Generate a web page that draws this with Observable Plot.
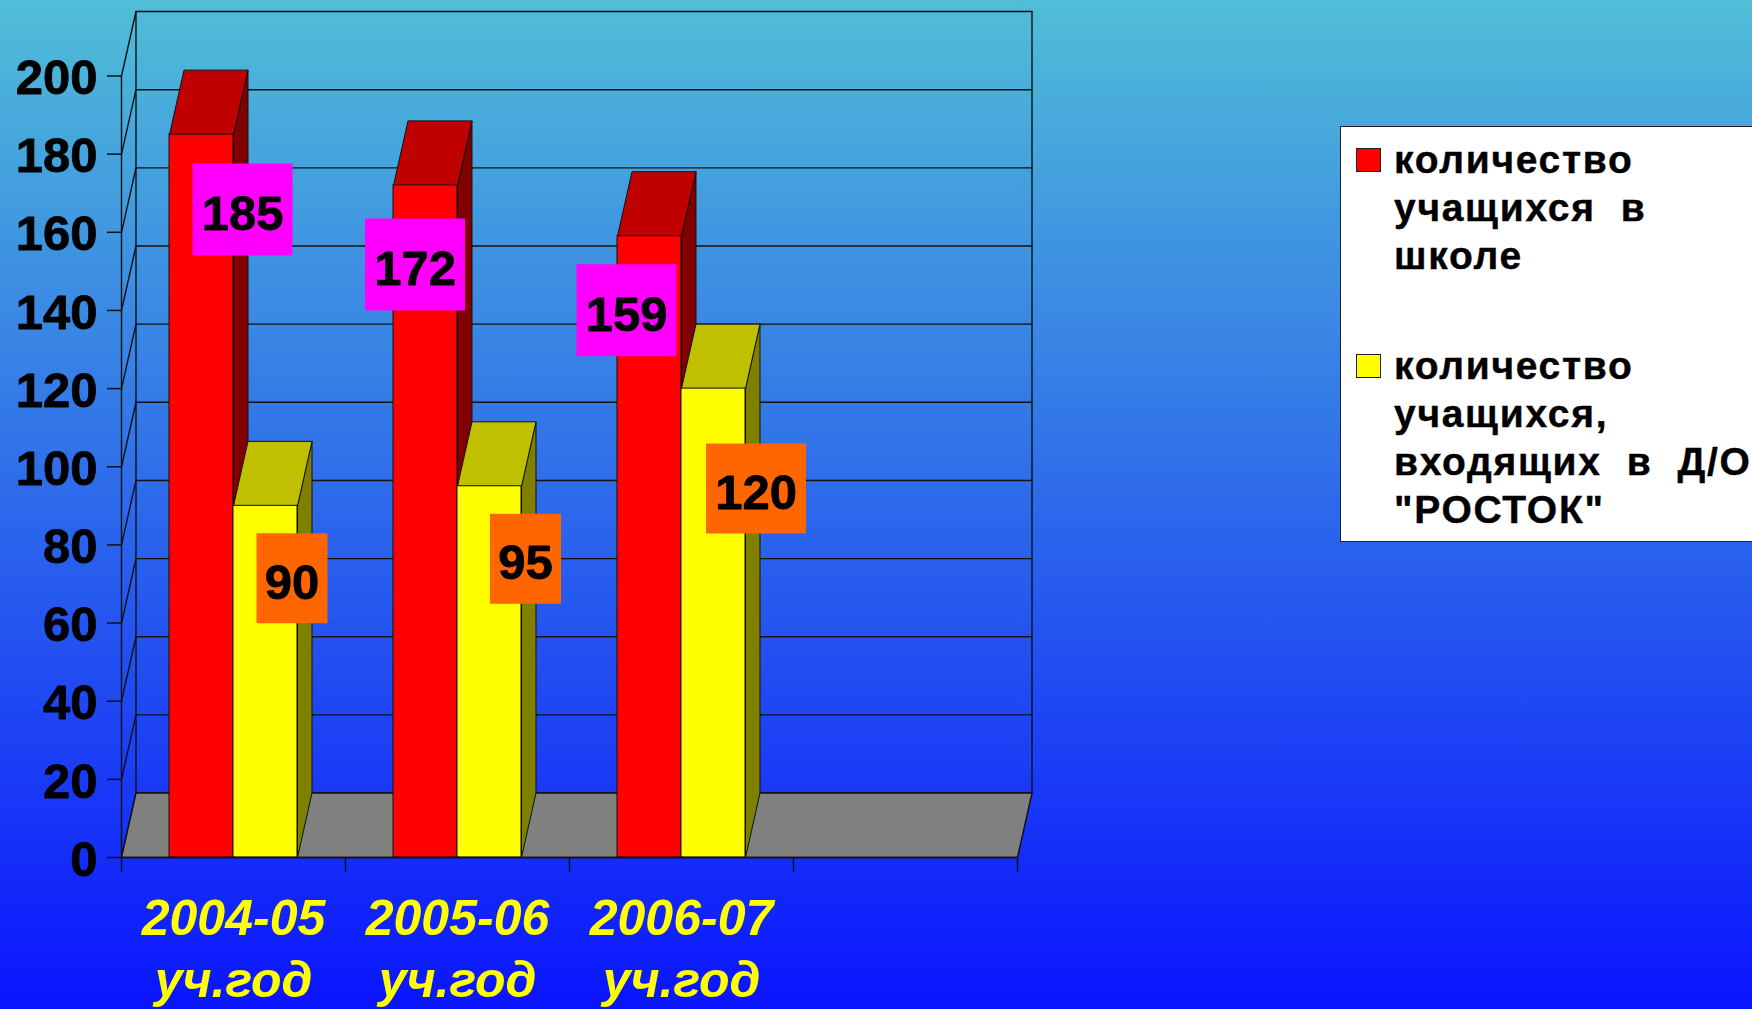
<!DOCTYPE html>
<html lang="ru">
<head>
<meta charset="utf-8">
<script src="https://cdn.jsdelivr.net/npm/d3@7"></script>
<script src="https://cdn.jsdelivr.net/npm/@observablehq/plot@0.6"></script>
<style>
  html, body { margin: 0; padding: 0; width: 1752px; height: 1009px; overflow: hidden; }
  body { position: relative; background: linear-gradient(to bottom, #50bed7 0, #0a14ff 1009px); font-family: "Liberation Sans", Arial, sans-serif; }
  svg { display: block; }
  #legend { position: absolute; left: 1340px; top: 126px; width: 412px; height: 416px; box-sizing: border-box;
    background: #fff; border: 1.5px solid #222; border-right: none; }
  .entry { position: absolute; left: 53px; font-size: 39px; font-weight: bold; line-height: 48px; color: #000; white-space: pre; letter-spacing: 1.7px; -webkit-text-stroke: 0.4px #000; }
  .swatch { position: absolute; left: -38px; top: 12px; width: 25px; height: 24px; box-sizing: border-box; border: 1px solid #222; }
</style>
</head>
<body>
<div id="legend"></div>
<script>
const categories = ["2004-05\nуч.год", "2005-06\nуч.год", "2006-07\nуч.год"];
const schoolValues = [185, 172, 159];
const rostokValues = [90, 95, 120];
const yTicks = [0, 20, 40, 60, 80, 100, 120, 140, 160, 180, 200];
const xTicks = [0, 1, 2, 3, 4];
const legendLabels = ["количество\nучащихся  в\nшколе", "количество\nучащихся,\nвходящих  в  Д/О\n\"РОСТОК\""];

const colors = {
  red: { front: "#ff0000", top: "#c00000", side: "#800000", label: "#ff00ff" },
  yellow: { front: "#ffff00", top: "#c0c000", side: "#808000", label: "#ff6600" }
};
const line = "#111111";
const FONT = 49;

// Chart geometry (in scale units): bar width, gap, and 3-D depth.
const barW = 2 / 7, gapW = 1.5 / 7;
const depthX = 0.0647, depthY = 16.5;
const xMax = xTicks[xTicks.length - 1];

const barsOf = (values, offset) => values.map((v, i) => ({ x1: i + gapW + offset * barW, x2: i + gapW + (offset + 1) * barW, v }));
const redBars = barsOf(schoolValues, 0);
const yellowBars = barsOf(rostokValues, 1);

function poly(id, pts) { return pts.concat([pts[0]]).map(([x, y]) => ({ id, x, y })); }
const topFaces = bars => bars.flatMap((b, i) => poly("t" + i, [[b.x1, b.v], [b.x2, b.v], [b.x2 + depthX, b.v + depthY], [b.x1 + depthX, b.v + depthY]]));
const sideFaces = bars => bars.flatMap((b, i) => poly("s" + i, [[b.x2, 0], [b.x2, b.v], [b.x2 + depthX, b.v + depthY], [b.x2 + depthX, depthY]]));

const gridLines = yTicks.flatMap(v => [[0, v], [depthX, v + depthY], [xMax + depthX, v + depthY]].map(([x, y]) => ({ id: v, x, y })));
const walls = [
  [[0, 0], [0, 200]],
  [[depthX, depthY], [depthX, 200 + depthY]],
  [[xMax + depthX, depthY], [xMax + depthX, 200 + depthY]]
].flatMap((seg, k) => seg.map(([x, y]) => ({ id: k, x, y })));
const floor = poly("floor", [[0, 0], [xMax, 0], [xMax + depthX, depthY], [depthX, depthY]]);

const xy = { x: "x", y: "y", z: "id" };
const faceMarks = (bars, c) => [
  Plot.line(sideFaces(bars), { ...xy, fill: c.side, stroke: line, strokeWidth: 1 }),
  Plot.line(topFaces(bars), { ...xy, fill: c.top, stroke: line, strokeWidth: 1 }),
  Plot.rect(bars, { x1: "x1", x2: "x2", y1: 0, y2: "v", fill: c.front, stroke: line, strokeWidth: 1 })
];

// Hand-placed label offsets in pixels from the top-centre of each bar.
const redLabelOffsets = [[41, 75], [-10.5, 79], [-23, 74]];
const yellowLabelOffsets = [[26.5, 72.5], [36, 72.5], [42.5, 100]];
const boxSymbol = (w, h) => ({ draw(ctx) { ctx.rect(-w / 2, -h / 2, w, h); } });
const labelMarks = (bars, offsets, color, h) => bars.flatMap((b, i) => {
  const t = String(b.v);
  const w = t.length === 3 ? 100 : 71;
  const d = [{ x: (b.x1 + b.x2) / 2, y: b.v, t }];
  const [dx, dy] = offsets[i];
  return [
    Plot.dot(d, { x: "x", y: "y", dx, dy, symbol: boxSymbol(w, h), r: 10, fill: color, stroke: "none" }),
    Plot.text(d, { x: "x", y: "y", text: "t", dx, dy: dy + 5, fontSize: FONT, fontWeight: "bold", fill: "#000", stroke: "#000", strokeWidth: 0.8 })
  ];
});

const chart = Plot.plot({
  width: 1752, height: 1009,
  marginLeft: 121, marginRight: 735, marginTop: 75.5, marginBottom: 152,
  x: { domain: [0, xMax] },
  y: { domain: [0, 200] },
  style: { background: "transparent", fontFamily: "'Liberation Sans', Arial, sans-serif", overflow: "hidden" },
  marks: [
    Plot.line(gridLines, { ...xy, stroke: line, strokeWidth: 1.4 }),
    Plot.line(walls, { ...xy, stroke: line, strokeWidth: 1.4 }),
    Plot.line(floor, { ...xy, fill: "#808080", stroke: line, strokeWidth: 1.4 }),
    ...faceMarks(redBars, colors.red),
    ...faceMarks(yellowBars, colors.yellow),
    Plot.ruleY([0], { stroke: line, strokeWidth: 1.6 }),
    Plot.axisY({ ticks: yTicks, tickSize: 14, fill: "none", stroke: line, strokeWidth: 1.5, label: null }),
    Plot.axisY({ ticks: yTicks, tickSize: 0, tickPadding: 24, dy: 2.5, fontSize: FONT, fontWeight: "bold", fill: "#000", textStroke: "#000", textStrokeWidth: 0.8, label: null }),
    Plot.axisX({ ticks: xTicks, tickSize: 15, fill: "none", stroke: line, strokeWidth: 1.5, label: null }),
    Plot.text(categories, {
      x: (d, i) => i + 0.5, y: () => 0, text: d => d, dy: 33, lineAnchor: "top", lineHeight: 1.24,
      fontSize: 50, fontWeight: "bold", fontStyle: "italic", fill: "#ffff00"
    }),
    ...labelMarks(redBars, redLabelOffsets, colors.red.label, 92),
    ...labelMarks(yellowBars, yellowLabelOffsets, colors.yellow.label, 90)
  ]
});
document.body.prepend(chart);

const legend = document.getElementById("legend");
[[legendLabels[0], colors.red.front, 9], [legendLabels[1], colors.yellow.front, 215]].forEach(([t, c, top]) => {
  const e = document.createElement("div");
  e.className = "entry";
  e.style.top = top + "px";
  e.textContent = t;
  const s = document.createElement("div");
  s.className = "swatch";
  s.style.background = c;
  e.appendChild(s);
  legend.appendChild(e);
});
</script>
</body>
</html>
